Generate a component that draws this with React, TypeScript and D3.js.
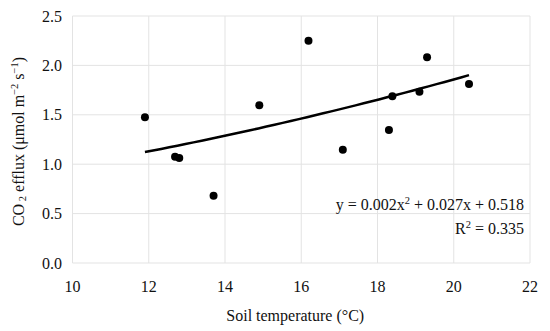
import React from "react";
import * as d3 from "d3";

const soilTemp = [11.9, 12.69, 12.8, 13.7, 14.9, 16.19, 17.09, 18.3, 18.39, 19.1, 19.3, 20.4];
const co2Efflux = [1.475, 1.076, 1.063, 0.681, 1.596, 2.25, 1.147, 1.346, 1.687, 1.734, 2.082, 1.812];
const xTicks = [10, 12, 14, 16, 18, 20, 22];
const yTicks = [0, 0.5, 1.0, 1.5, 2.0, 2.5];
const fitCoef = [0.002, 0.027, 0.518];

const W = 550, H = 331;
const M = { left: 72.5, right: 20, top: 16, bottom: 68 };
const FONT = "'Liberation Serif', 'Times New Roman', serif";
const FS = 16;
const SUP = 10.5;

export default function App() {
  const x = d3.scaleLinear().domain([10, 22]).range([M.left, W - M.right]);
  const y = d3.scaleLinear().domain([0, 2.5]).range([H - M.bottom, M.top]);
  const xmin = d3.min(soilTemp)!, xmax = d3.max(soilTemp)!;
  const fitPts = d3.range(0, 41).map(i => {
    const t = xmin + (xmax - xmin) * i / 40;
    return [t, fitCoef[0] * t * t + fitCoef[1] * t + fitCoef[2]] as [number, number];
  });
  const line = d3.line<[number, number]>().x(d => x(d[0])).y(d => y(d[1]));
  const cx = (M.left + W - M.right) / 2;
  return (
    <svg width={W} height={H} style={{ position: "absolute", left: 0, top: 0, background: "#fff" }} fontFamily={FONT}>
      {xTicks.map(t => (
        <line key={"gx" + t} x1={x(t)} x2={x(t)} y1={y(0)} y2={y(2.5)} stroke="#e3e3e3" strokeWidth={1} />
      ))}
      {yTicks.map(t => (
        <line key={"gy" + t} x1={x(10)} x2={x(22)} y1={y(t)} y2={y(t)} stroke="#e3e3e3" strokeWidth={1} />
      ))}
      {xTicks.map(t => (
        <text key={"tx" + t} x={x(t)} y={y(0) + 29} textAnchor="middle" fontSize={FS} fill="#111">{t}</text>
      ))}
      {yTicks.map(t => (
        <text key={"ty" + t} x={M.left - 10.5} y={y(t) + 5.5} textAnchor="end" fontSize={FS} fill="#111">{t.toFixed(1)}</text>
      ))}
      <text x={cx - 6} y={320.5} textAnchor="middle" fontSize={FS} fill="#111">Soil temperature (°C)</text>
      <text transform={`translate(23.5,${(M.top + H - M.bottom) / 2 + 2}) rotate(-90)`} textAnchor="middle" fontSize={FS} fill="#111">
        CO<tspan fontSize={SUP} dy={2}> 2</tspan><tspan dy={-2}> efflux (μmol m</tspan><tspan fontSize={SUP} dy={-6}>−2</tspan><tspan dy={6}> s</tspan><tspan fontSize={SUP} dy={-6}>−1</tspan><tspan dy={6}>)</tspan>
      </text>
      <path d={line(fitPts)!} fill="none" stroke="#000" strokeWidth={2.5} />
      {soilTemp.map((t, i) => (
        <circle key={"p" + i} cx={x(t)} cy={y(co2Efflux[i])} r={4} fill="#000" />
      ))}
      <text x={524} y={209.5} textAnchor="end" fontSize={FS} fill="#111">
        y = 0.002x<tspan fontSize={SUP} dy={-6}>2</tspan><tspan dy={6}> + 0.027x + 0.518</tspan>
      </text>
      <text x={524} y={233.5} textAnchor="end" fontSize={FS} fill="#111">
        R<tspan fontSize={SUP} dy={-6}>2</tspan><tspan dy={6}> = 0.335</tspan>
      </text>
    </svg>
  );
}
